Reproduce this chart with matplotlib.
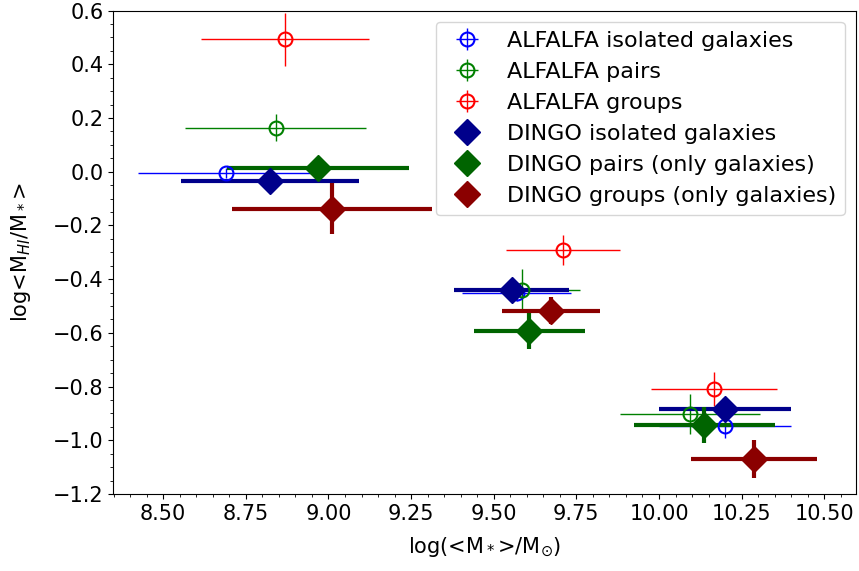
import matplotlib
matplotlib.use("Agg")
import matplotlib.pyplot as plt
from matplotlib.ticker import MultipleLocator

# ALFALFA (open circles): stellar mass, HI fraction, errors
alf_labels = ["ALFALFA isolated galaxies", "ALFALFA pairs", "ALFALFA groups"]
alf_colors = ["blue", "green", "red"]
alf_x = [[8.69, 9.57, 10.20], [8.84, 9.584, 10.094], [8.869, 9.71, 10.166]]
alf_y = [[-0.005, -0.452, -0.947], [0.163, -0.442, -0.902], [0.493, -0.291, -0.809]]
alf_xerr = [[0.267, 0.165, 0.20], [0.273, 0.177, 0.213], [0.255, 0.172, 0.19]]
alf_yerr = [[0.02, 0.03, 0.045], [0.05, 0.08, 0.074], [0.098, 0.055, 0.062]]

# DINGO (filled diamonds)
din_labels = ["DINGO isolated galaxies", "DINGO pairs (only galaxies)",
              "DINGO groups (only galaxies)"]
din_colors = ["darkblue", "darkgreen", "darkred"]
din_x = [[8.823, 9.554, 10.200], [8.969, 9.607, 10.137], [9.010, 9.672, 10.288]]
din_y = [[-0.036, -0.442, -0.883], [0.012, -0.592, -0.943], [-0.138, -0.518, -1.070]]
din_xerr = [[0.268, 0.174, 0.20], [0.276, 0.168, 0.213], [0.303, 0.148, 0.19]]
din_yerr = [[0.02, 0.02, 0.04], [0.02, 0.07, 0.067], [0.095, 0.05, 0.07]]

fig = plt.figure(figsize=(8.59, 5.71), dpi=100)
ax = fig.add_axes([0.1319, 0.1349, 0.8646, 0.8467])

handles = []
for x, y, xe, ye, c, lab in zip(alf_x, alf_y, alf_xerr, alf_yerr,
                                alf_colors, alf_labels):
    eb = ax.errorbar(x, y, xerr=xe, yerr=ye, fmt="o", color=c, mfc="none",
                     mec=c, ms=10, mew=1.5, elinewidth=1, label=lab)
    handles.append(eb)
for x, y, xe, ye, c, lab in zip(din_x, din_y, din_xerr, din_yerr,
                                din_colors, din_labels):
    eb = ax.errorbar(x, y, xerr=xe, yerr=ye, fmt="D", color=c, ms=13,
                     elinewidth=3)
    # legend shows only the diamond, not the bars
    eb.lines[0].set_label(lab)
    handles.append(eb.lines[0])

ax.set_xlim(8.349, 10.596)
ax.set_ylim(-1.2, 0.6)
ax.xaxis.set_major_locator(MultipleLocator(0.25))
ax.xaxis.set_minor_locator(MultipleLocator(0.05))
ax.yaxis.set_major_locator(MultipleLocator(0.2))
ax.yaxis.set_minor_locator(MultipleLocator(0.05))
ax.tick_params(labelsize=15)
ax.set_xlabel(r"log(<M$_*$>/M$_{\odot}$)", fontsize=15, labelpad=8)
ax.set_ylabel(r"log<M$_{HI}$/M$_*$>", fontsize=15, labelpad=14)
ax.legend(handles=handles, loc="upper right", fontsize=16)

fig.savefig("out.png", dpi=100)
